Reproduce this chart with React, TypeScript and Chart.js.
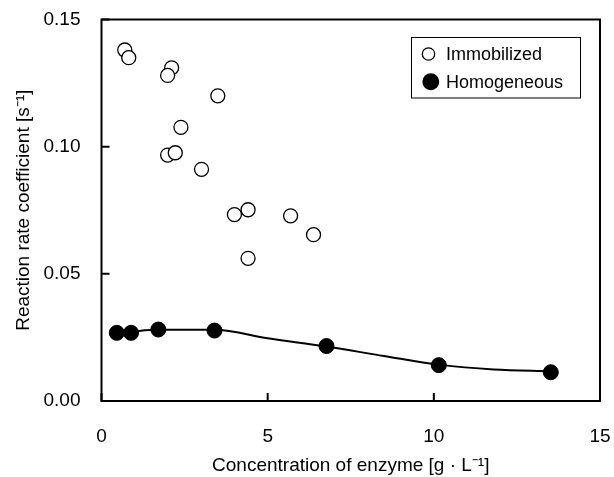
import React, { useEffect, useRef } from "react";
import { Chart, registerables } from "chart.js";

Chart.register(...registerables);

const immobilizedX = [0.70, 0.82, 2.11, 1.99, 3.50, 2.39, 1.99, 2.22, 3.01, 4.00, 4.41, 5.69, 6.38, 4.41];
const immobilizedY = [0.138, 0.135, 0.131, 0.128, 0.120, 0.1076, 0.0967, 0.0976, 0.0911, 0.0733, 0.0752, 0.0728, 0.0654, 0.0561];

const homogeneousX = [0.46, 0.89, 1.71, 3.40, 6.77, 10.15, 13.52];
const homogeneousY = [0.0268, 0.0268, 0.0281, 0.0277, 0.0216, 0.0141, 0.0113];

const fitX = [0.89, 1.3, 1.71, 3.4, 5.0, 6.77, 8.5, 10.15, 11.8, 13.52];
const fitY = [0.0270, 0.0278, 0.0280, 0.0280, 0.0247, 0.0214, 0.0177, 0.0143, 0.0124, 0.0117];

const xTicks = [0, 5, 10, 15];
const yTicks = [0, 0.05, 0.1, 0.15];

const FONT = "'Liberation Sans', Arial, sans-serif";

const framePlugin = {
  id: "frameAndLegend",
  afterDraw(chart: any) {
    const { ctx, chartArea, scales } = chart;
    const { left, right, top, bottom } = chartArea;
    ctx.save();
    ctx.strokeStyle = "#000";
    ctx.lineWidth = 2;
    ctx.strokeRect(left, top, right - left, bottom - top);
    const tl = 8;
    ctx.beginPath();
    for (const v of xTicks) {
      const px = scales.x.getPixelForValue(v);
      ctx.moveTo(px, bottom);
      ctx.lineTo(px, bottom - tl);
    }
    for (const v of yTicks) {
      const py = scales.y.getPixelForValue(v);
      ctx.moveTo(left, py);
      ctx.lineTo(left + tl, py);
    }
    ctx.stroke();

    // legend
    const ds = chart.data.datasets.slice(0, 2);
    const boxLeft = 411;
    const boxRight = right - 20;
    const boxTop = top + 17.5;
    const boxBottom = top + 78;
    ctx.lineWidth = 1;
    ctx.fillStyle = "#fff";
    ctx.fillRect(boxLeft, boxTop, boxRight - boxLeft, boxBottom - boxTop);
    ctx.strokeStyle = "#000";
    ctx.strokeRect(boxLeft + 0.5, boxTop + 0.5, boxRight - boxLeft, boxBottom - boxTop);
    ctx.font = `18px ${FONT}`;
    ctx.textBaseline = "middle";
    const radii = [6.2, 7.8];
    const cxs = [428.5, 430.8];
    ds.forEach((d: any, i: number) => {
      const cy = top + 34.5 + i * 27.7;
      const cx = cxs[i];
      ctx.beginPath();
      ctx.arc(cx, cy, radii[i], 0, Math.PI * 2);
      ctx.fillStyle = d.backgroundColor;
      ctx.fill();
      ctx.lineWidth = 1.3;
      ctx.strokeStyle = "#000";
      ctx.stroke();
      ctx.fillStyle = "#000";
      ctx.fillText(d.label, 446, cy + 1);
    });
    ctx.restore();
  },
};

export default function App() {
  const ref = useRef<HTMLCanvasElement>(null);
  useEffect(() => {
    document.body.style.margin = "0";
    const chart = new Chart(ref.current!, {
      type: "scatter",
      data: {
        datasets: [
          {
            label: "Immobilized",
            data: immobilizedX.map((x, i) => ({ x, y: immobilizedY[i] })),
            backgroundColor: "#fff",
            borderColor: "#000",
            borderWidth: 1.3,
            pointRadius: 7,
            order: 1,
          },
          {
            label: "Homogeneous",
            data: homogeneousX.map((x, i) => ({ x, y: homogeneousY[i] })),
            backgroundColor: "#000",
            borderColor: "#000",
            borderWidth: 1,
            pointRadius: 7.5,
            order: 2,
          },
          {
            label: "fit",
            type: "line",
            data: fitX.map((x, i) => ({ x, y: fitY[i] })),
            borderColor: "#000",
            borderWidth: 2,
            pointRadius: 0,
            showLine: true,
            fill: false,
            tension: 0.4,
            cubicInterpolationMode: "monotone",
            order: 3,
          } as any,
        ],
      },
      options: {
        responsive: false,
        animation: false,
        layout: { padding: { top: 19.5, right: 14, left: 0, bottom: 0 } },
        plugins: { legend: { display: false }, tooltip: { enabled: false } },
        scales: {
          x: {
            type: "linear",
            min: 0,
            max: 15,
            afterBuildTicks: (s: any) => { s.ticks = xTicks.map((v) => ({ value: v })); },
            afterFit: (s: any) => { s.height = 76; s.paddingLeft = 0; s.paddingRight = 0; },
            grid: { display: false, drawTicks: false },
            border: { display: false },
            ticks: {
              padding: 24,
              color: "#000",
              font: { family: FONT, size: 19 },
              maxRotation: 0,
              callback: (v: any) => String(v),
            },
            title: {
              display: true,
              text: "Concentration of enzyme [g · L⁻¹]",
              color: "#000",
              font: { family: FONT, size: 19 },
              padding: { top: 0, bottom: 0 },
            },
          },
          y: {
            type: "linear",
            min: 0,
            max: 0.15,
            afterBuildTicks: (s: any) => { s.ticks = yTicks.map((v) => ({ value: v })); },
            afterFit: (s: any) => { s.width = 101.5; s.paddingTop = 0; s.paddingBottom = 0; },
            grid: { display: false, drawTicks: false },
            border: { display: false },
            ticks: {
              padding: 21,
              color: "#000",
              font: { family: FONT, size: 19 },
              callback: (v: any) => Number(v).toFixed(2),
            },
            title: {
              display: true,
              text: "Reaction rate coefficient [s⁻¹]",
              color: "#000",
              font: { family: FONT, size: 19 },
              padding: { top: 12, bottom: 0 },
            },
          },
        },
      },
      plugins: [framePlugin],
    });
    return () => chart.destroy();
  }, []);
  return (
    <div style={{ width: 614, height: 477 }}>
      <canvas ref={ref} width={614} height={477} style={{ display: "block" }} />
    </div>
  );
}
